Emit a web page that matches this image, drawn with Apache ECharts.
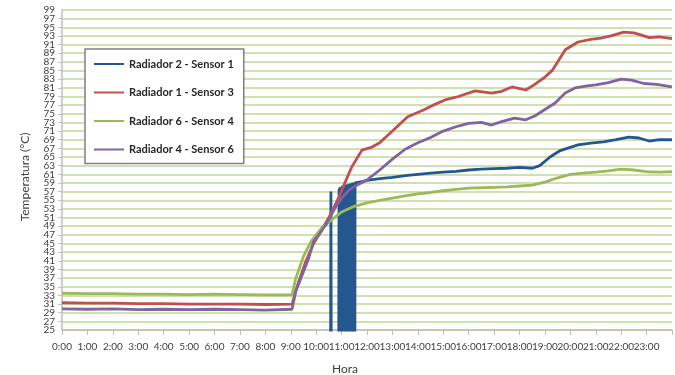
<!DOCTYPE html>
<html>
<head>
<meta charset="utf-8">
<title>Temperatura radiadores</title>
<script src="https://cdn.jsdelivr.net/npm/echarts@6/dist/echarts.min.js"></script>
<style>
	html, body { margin: 0; padding: 0; background: #fff; }
	#grafico { width: 675px; height: 375px; }
</style>
</head>
<body>
<div id="grafico"></div>
<script>
// nombres de las series (orden de la leyenda)
var nombres = ['Radiador 2 - Sensor 1', 'Radiador 1 - Sensor 3', 'Radiador 6 - Sensor 4', 'Radiador 4 - Sensor 6'];

// Radiador 2 - Sensor 1 (picos hasta 0 antes de estabilizarse)
var horasR2 = [10.56, 10.58, 10.60, 10.88,
	10.90, 10.92, 10.93, 10.95, 10.96, 10.98, 10.99, 11.01, 11.02, 11.04, 11.05,
	11.07, 11.08, 11.10, 11.11, 11.13, 11.14, 11.16, 11.17, 11.19, 11.20, 11.22,
	11.23, 11.25, 11.26, 11.28, 11.29, 11.31, 11.32, 11.34, 11.35, 11.37, 11.38,
	11.40, 11.41, 11.43, 11.44, 11.46, 11.47, 11.49, 11.50, 11.52, 11.53,
	11.8, 12, 12.5, 13, 13.5, 14, 14.5, 15, 15.5, 16, 16.5, 17, 17.5, 18, 18.5,
	18.8, 19.2, 19.6, 20.3, 20.8, 21.3, 21.8, 22.3, 22.7, 23.1, 23.5, 24];
var tempR2 = [0, 57, 0, 0,
	57.6, 0, 57.9, 0, 58.1, 0, 57.8, 0, 58.2, 0, 58.4,
	0, 58.1, 0, 58.5, 0, 58.3, 0, 58.6, 0, 58.4, 0,
	58.7, 0, 58.5, 0, 58.8, 0, 58.6, 0, 58.9, 0, 58.7,
	0, 59.0, 0, 58.8, 0, 59.1, 0, 58.9, 0, 59.0,
	59.3, 59.6, 60.0, 60.3, 60.7, 61.0, 61.3, 61.5, 61.7, 62.0, 62.2, 62.3, 62.4, 62.6, 62.4,
	63.0, 65.0, 66.5, 67.8, 68.2, 68.5, 69.0, 69.6, 69.4, 68.7, 69.0, 69.0];

// Radiador 1 - Sensor 3
var horasR1 = [0, 1, 2, 3, 4, 5, 6, 7, 8, 9.05, 9.3, 9.6, 9.9, 10.2, 10.5, 10.9, 11.2, 11.4, 11.8,
	12.2, 12.5, 13, 13.6, 14.2, 14.6, 15.07, 15.6, 16.25, 16.9, 17.3, 17.7, 18.25, 18.6,
	19, 19.3, 19.5, 19.8, 20.3, 20.8, 21.2, 21.6, 22.1, 22.5, 22.8, 23.1, 23.5, 24];
var tempR1 = [31.3, 31.2, 31.2, 31.1, 31.1, 31.0, 31.0, 31.0, 30.9, 31.0, 36, 41, 45, 48, 51, 55.8, 60, 62.7, 66.6,
	67.3, 68.3, 71, 74.3, 75.8, 77, 78.2, 79, 80.3, 79.8, 80.2, 81.2, 80.5, 81.8,
	83.5, 85.1, 87, 89.8, 91.6, 92.2, 92.5, 93, 93.9, 93.7, 93.2, 92.6, 92.8, 92.4];

// Radiador 6 - Sensor 4
var horasR6 = [0, 1, 2, 3, 4, 5, 6, 7, 8, 9.05, 9.2, 9.5, 9.8, 10.2, 10.6, 11, 11.5, 12, 12.5, 13, 13.5,
	14, 14.5, 15, 15.5, 16, 16.5, 17, 17.5, 18, 18.5, 19, 19.5, 20, 20.5, 21, 21.5, 22, 22.5, 23, 23.5, 24];
var tempR6 = [33.5, 33.4, 33.4, 33.3, 33.3, 33.2, 33.3, 33.2, 33.1, 33.1, 37, 42, 45.5, 48.5, 50.4, 52.3, 53.6, 54.4, 55, 55.5, 56,
	56.5, 56.8, 57.2, 57.5, 57.8, 57.9, 58, 58.1, 58.3, 58.5, 59.2, 60.2, 61, 61.3, 61.5, 61.8, 62.2, 62, 61.6, 61.5, 61.6];

// Radiador 4 - Sensor 6
var horasR4 = [0, 1, 2, 3, 4, 5, 6, 7, 8, 9.05, 9.2, 9.5, 9.7, 9.9, 10.1, 10.4, 10.75, 11, 11.3, 11.6, 12,
	12.5, 13, 13.5, 14, 14.5, 15, 15.5, 16, 16.5, 16.9, 17.3, 17.8, 18.25, 18.6, 19, 19.4, 19.8,
	20.2, 20.6, 21, 21.5, 22, 22.4, 22.9, 23.4, 24];
var tempR4 = [29.9, 29.8, 29.9, 29.7, 29.8, 29.7, 29.8, 29.7, 29.6, 29.8, 34, 38.5, 41.5, 45.5, 47, 49.5, 53.3, 55.5, 57.4, 58.5, 59.7,
	62, 64.5, 66.8, 68.3, 69.5, 71, 72, 72.8, 73, 72.4, 73.2, 74, 73.6, 74.5, 76, 77.5, 79.8,
	81, 81.4, 81.7, 82.2, 83, 82.8, 82, 81.8, 81.2];

var colores = ['#245790', '#c0504d', '#9bbb59', '#8064a2'];

// el eje empieza en 25 con marcas impares: se dibuja desde 0 y la etiqueta suma la base
var base = 25;
var tope = 99;

function pares(horas, temps) {
	var res = [];
	for (var i = 0; i < horas.length; i++) {
		res.push([horas[i], temps[i] - base]);
	}
	return res;
}

function serie(nombre, datos, color) {
	return {
		name: nombre,
		type: 'line',
		yAxisIndex: 0,
		data: datos,
		symbol: 'none',
		clip: true,
		smooth: false,
		lineStyle: { color: color, width: 2.8 },
		itemStyle: { color: color },
		animation: false
	};
}

var etiquetaY = {
	margin: 7, fontSize: 10, color: '#404040', fontFamily: 'Lato',
	formatter: function(v) { return v + base; }
};

var myChart = echarts.init(document.getElementById('grafico'));
var option = {
	backgroundColor: '#fff',
	animation: false,
	grid: { left: 62, right: 0, top: 10, bottom: 45 },
	legend: {
		orient: 'vertical',
		left: 85,
		top: 49,
		padding: [8, 10, 7, 9],
		itemGap: 14.5,
		itemWidth: 30,
		itemHeight: 2,
		icon: 'rect',
		backgroundColor: '#fff',
		borderColor: '#808080',
		borderWidth: 1.5,
		textStyle: { fontSize: 11, fontWeight: 'bold', color: '#262626', fontFamily: 'Lato', lineHeight: 14 },
		data: nombres
	},
	xAxis: {
		type: 'value',
		min: 0,
		max: 24,
		interval: 1,
		axisLine: { show: true, lineStyle: { color: '#bfbfbf', width: 1.5 } },
		axisTick: { show: true, length: 5, lineStyle: { color: '#bfbfbf' } },
		axisLabel: {
			margin: 12,
			fontSize: 10,
			color: '#404040',
			fontFamily: 'Lato',
			formatter: function(v) { return v == 24 ? '' : v + ':00'; }
		},
		splitLine: { show: false }
	},
	yAxis: [
		{
			// marcas cada 2 grados (27 ... 97)
			type: 'value',
			position: 'left',
			min: 0,
			max: tope - base,
			interval: 2,
			axisLine: { show: true, lineStyle: { color: '#bfbfbf', width: 1.5 } },
			axisTick: { show: true, length: 4, lineStyle: { color: '#bfbfbf' } },
			axisLabel: etiquetaY,
			splitLine: { show: true, lineStyle: { color: '#cfe1ae', width: 2 } }
		},
		{
			// solo los extremos 25 y 99
			type: 'value',
			position: 'left',
			offset: 0,
			min: 0,
			max: tope - base,
			interval: tope - base,
			axisLine: { show: false },
			axisTick: { show: false },
			axisLabel: etiquetaY,
			splitLine: { show: false }
		}
	],
	graphic: [
		{
			type: 'text',
			x: 25, y: 177,
			rotation: Math.PI / 2,
			style: { text: 'Temperatura (°C)', fontSize: 12, fill: '#404040', fontFamily: 'Lato', align: 'center', verticalAlign: 'middle' }
		},
		{
			type: 'text',
			x: 345, y: 369,
			style: { text: 'Hora', fontSize: 12, fill: '#404040', fontFamily: 'Lato', align: 'center', verticalAlign: 'middle' }
		}
	],
	series: [
		serie(nombres[0], pares(horasR2, tempR2), colores[0]),
		serie(nombres[1], pares(horasR1, tempR1), colores[1]),
		serie(nombres[2], pares(horasR6, tempR6), colores[2]),
		serie(nombres[3], pares(horasR4, tempR4), colores[3])
	]
};
myChart.setOption(option);
</script>
</body>
</html>
